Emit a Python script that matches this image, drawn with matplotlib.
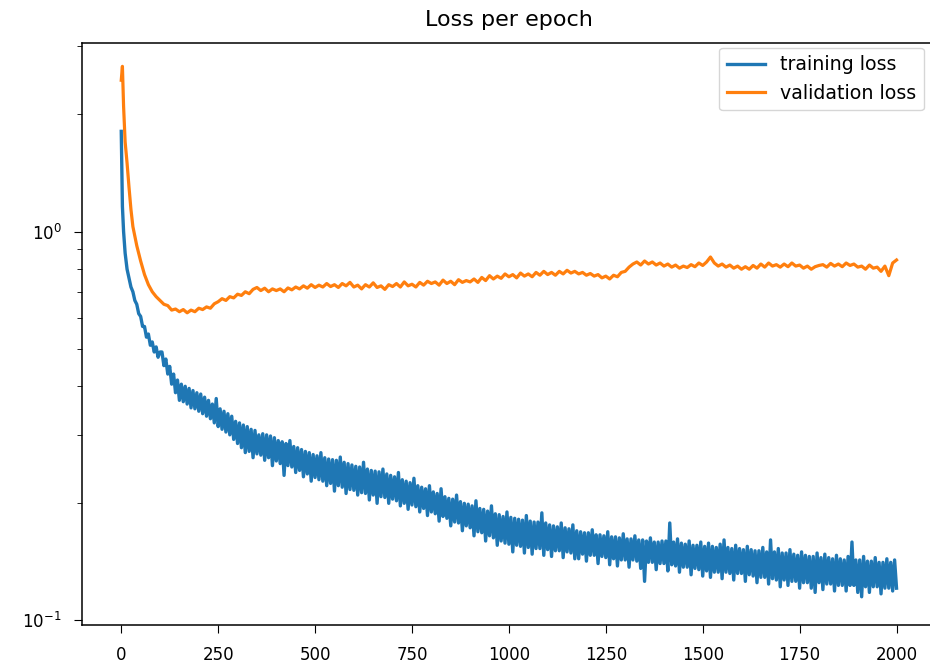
import numpy as np
import matplotlib
matplotlib.use("Agg")
import matplotlib.pyplot as plt

start_epochs = [0, 3, 6, 10, 15, 20, 25]
train_epochs = np.concatenate([start_epochs, np.arange(30, 2001, 5)])
val_epochs = np.concatenate([start_epochs, np.arange(30, 2001, 10)])

train_loss = [
    1.81, 1.16, 1.0, 0.88, 0.80, 0.76, 0.72,
    0.70, 0.665, 0.65, 0.615, 0.605, 0.57, 0.57, 0.535, 0.545, 0.51, 0.52, 0.49, 0.505, 0.475, 0.49,
    0.49, 0.452, 0.47, 0.43, 0.45, 0.405, 0.43, 0.385, 0.415, 0.368, 0.405, 0.365, 0.40, 0.36, 0.395, 0.352, 0.39, 0.35, 0.385, 0.345,
    0.382, 0.34, 0.375, 0.335, 0.368, 0.33, 0.36, 0.322, 0.372, 0.315, 0.35, 0.31, 0.345, 0.305, 0.34, 0.30, 0.335, 0.292, 0.325, 0.285,
    0.322, 0.278, 0.318, 0.27, 0.315, 0.272, 0.31, 0.262, 0.308, 0.268, 0.3, 0.266, 0.302, 0.258, 0.30, 0.262, 0.298, 0.25, 0.295, 0.257,
    0.29, 0.253, 0.288, 0.236, 0.285, 0.25, 0.29, 0.248, 0.28, 0.24, 0.278, 0.243, 0.275, 0.234, 0.272, 0.238, 0.27, 0.228, 0.267, 0.233,
    0.265, 0.23, 0.27, 0.228, 0.262, 0.222, 0.26, 0.225, 0.259, 0.215, 0.258, 0.222, 0.263, 0.22, 0.255, 0.212, 0.253, 0.217, 0.251, 0.216,
    0.249, 0.21, 0.248, 0.213, 0.255, 0.212, 0.245, 0.204, 0.243, 0.21, 0.242, 0.2, 0.241, 0.208, 0.245, 0.207, 0.238, 0.2, 0.236, 0.205,
    0.234, 0.203, 0.24, 0.197, 0.23, 0.2, 0.228, 0.193, 0.226, 0.198, 0.232, 0.196, 0.222, 0.19, 0.22, 0.194, 0.218, 0.186, 0.222, 0.19,
    0.214, 0.188, 0.212, 0.18, 0.218, 0.185, 0.208, 0.183, 0.206, 0.175, 0.205, 0.179, 0.21, 0.178, 0.202, 0.17, 0.2, 0.175, 0.199, 0.173,
    0.197, 0.165, 0.203, 0.169, 0.194, 0.168, 0.193, 0.16, 0.191, 0.165, 0.197, 0.163, 0.188, 0.156, 0.187, 0.16, 0.185, 0.158, 0.19, 0.157,
    0.184, 0.15, 0.183, 0.156, 0.182, 0.155, 0.181, 0.149, 0.186, 0.154, 0.18, 0.148, 0.179, 0.153, 0.179, 0.153, 0.189, 0.147, 0.178, 0.152,
    0.176, 0.146, 0.175, 0.151, 0.174, 0.151, 0.178, 0.145, 0.173, 0.15, 0.172, 0.149, 0.176, 0.144, 0.17, 0.144, 0.169, 0.148, 0.168, 0.142,
    0.168, 0.147, 0.171, 0.147, 0.166, 0.14, 0.166, 0.146, 0.165, 0.145, 0.169, 0.139, 0.164, 0.144, 0.164, 0.138, 0.163, 0.143, 0.167, 0.143,
    0.162, 0.137, 0.162, 0.143, 0.165, 0.142, 0.161, 0.136, 0.161, 0.126, 0.16, 0.141, 0.163, 0.141, 0.159, 0.135, 0.159, 0.14, 0.16, 0.14,
    0.16, 0.134, 0.178, 0.139, 0.159, 0.138, 0.162, 0.133, 0.158, 0.137, 0.157, 0.137, 0.16, 0.131, 0.156, 0.136, 0.156, 0.135, 0.159, 0.13,
    0.155, 0.134, 0.158, 0.129, 0.155, 0.133, 0.154, 0.133, 0.157, 0.128, 0.161, 0.133, 0.154, 0.132, 0.153, 0.127, 0.156, 0.132, 0.153, 0.132,
    0.152, 0.126, 0.155, 0.131, 0.152, 0.13, 0.151, 0.125, 0.151, 0.129, 0.154, 0.129, 0.15, 0.124, 0.161, 0.128, 0.15, 0.127, 0.153, 0.122,
    0.149, 0.127, 0.149, 0.123, 0.152, 0.126, 0.148, 0.126, 0.147, 0.121, 0.15, 0.125, 0.147, 0.125, 0.146, 0.121, 0.146, 0.118, 0.149, 0.125,
    0.145, 0.12, 0.148, 0.124, 0.145, 0.124, 0.144, 0.119, 0.147, 0.123, 0.144, 0.123, 0.143, 0.119, 0.146, 0.123, 0.159, 0.123, 0.143, 0.118,
    0.143, 0.115, 0.146, 0.122, 0.142, 0.118, 0.142, 0.122, 0.145, 0.122, 0.141, 0.117, 0.141, 0.121, 0.144, 0.121, 0.141, 0.119, 0.143, 0.121,
]

val_loss = [
    2.45, 2.66, 2.1, 1.7, 1.5, 1.3, 1.14,
    1.03, 0.92, 0.84, 0.775, 0.73, 0.70, 0.68, 0.665,
    0.65, 0.645, 0.628, 0.632, 0.622, 0.63, 0.618, 0.628, 0.622, 0.635,
    0.63, 0.64, 0.635, 0.652, 0.66, 0.672, 0.665, 0.68, 0.675, 0.69,
    0.685, 0.70, 0.692, 0.71, 0.718, 0.705, 0.715, 0.70, 0.712, 0.705,
    0.712, 0.70, 0.716, 0.708, 0.72, 0.712, 0.725, 0.715, 0.73, 0.718,
    0.728, 0.72, 0.735, 0.722, 0.73, 0.718, 0.735, 0.725, 0.74, 0.72,
    0.728, 0.712, 0.73, 0.72, 0.738, 0.718, 0.725, 0.71, 0.73, 0.722,
    0.735, 0.72, 0.742, 0.725, 0.732, 0.72, 0.74, 0.728, 0.745, 0.735,
    0.742, 0.728, 0.75, 0.735, 0.745, 0.73, 0.752, 0.74, 0.748, 0.742,
    0.755, 0.74, 0.762, 0.748, 0.77, 0.755, 0.768, 0.758, 0.778, 0.765,
    0.775, 0.76, 0.782, 0.768, 0.778, 0.765, 0.785, 0.772, 0.79, 0.775,
    0.785, 0.772, 0.79, 0.778, 0.795, 0.782, 0.79, 0.778, 0.785, 0.772,
    0.78, 0.768, 0.775, 0.76, 0.768, 0.755, 0.772, 0.765, 0.785, 0.79,
    0.81, 0.825, 0.835, 0.82, 0.84, 0.825, 0.835, 0.82, 0.83, 0.815,
    0.825, 0.81, 0.82, 0.805, 0.815, 0.808, 0.822, 0.812, 0.83, 0.818,
    0.835, 0.86, 0.83, 0.815, 0.825, 0.81, 0.82, 0.805, 0.815, 0.80,
    0.812, 0.80, 0.818, 0.805, 0.825, 0.81, 0.83, 0.815, 0.822, 0.81,
    0.825, 0.812, 0.83, 0.815, 0.82, 0.805, 0.815, 0.80, 0.812, 0.818,
    0.822, 0.81, 0.828, 0.815, 0.825, 0.812, 0.83, 0.818, 0.825, 0.81,
    0.815, 0.80, 0.82, 0.805, 0.81, 0.79, 0.815, 0.77, 0.83, 0.845,
]

plt.rcParams["xtick.labelsize"] = 12
plt.rcParams["ytick.labelsize"] = 12
plt.rcParams["xtick.major.size"] = 6
plt.rcParams["ytick.major.size"] = 6
plt.rcParams["ytick.minor.size"] = 3.5
plt.rcParams["xtick.major.pad"] = 9
plt.rcParams["ytick.major.pad"] = 9
plt.rcParams["axes.linewidth"] = 1.1

fig = plt.figure(figsize=(9.3, 6.69), dpi=100)
# axes run slightly past the right edge, as in the cropped original
ax = fig.add_axes([0.0887, 0.0658, 0.917, 0.8704])
ax.plot(train_epochs, train_loss, lw=2.4, label="training loss")
ax.plot(val_epochs, val_loss, lw=2.3, label="validation loss")
ax.set_yscale("log")
ax.set_xlim(-100, 2100)
ax.set_ylim(0.0973, 3.06)
ax.set_xticks([0, 250, 500, 750, 1000, 1250, 1500, 1750, 2000])
ax.set_title("Loss per epoch", fontsize=16, pad=12)
ax.legend(loc="upper right", bbox_to_anchor=(0.9868, 0.9914), borderaxespad=0,
          fontsize=13.7)

fig.savefig("out.png", dpi=100)
